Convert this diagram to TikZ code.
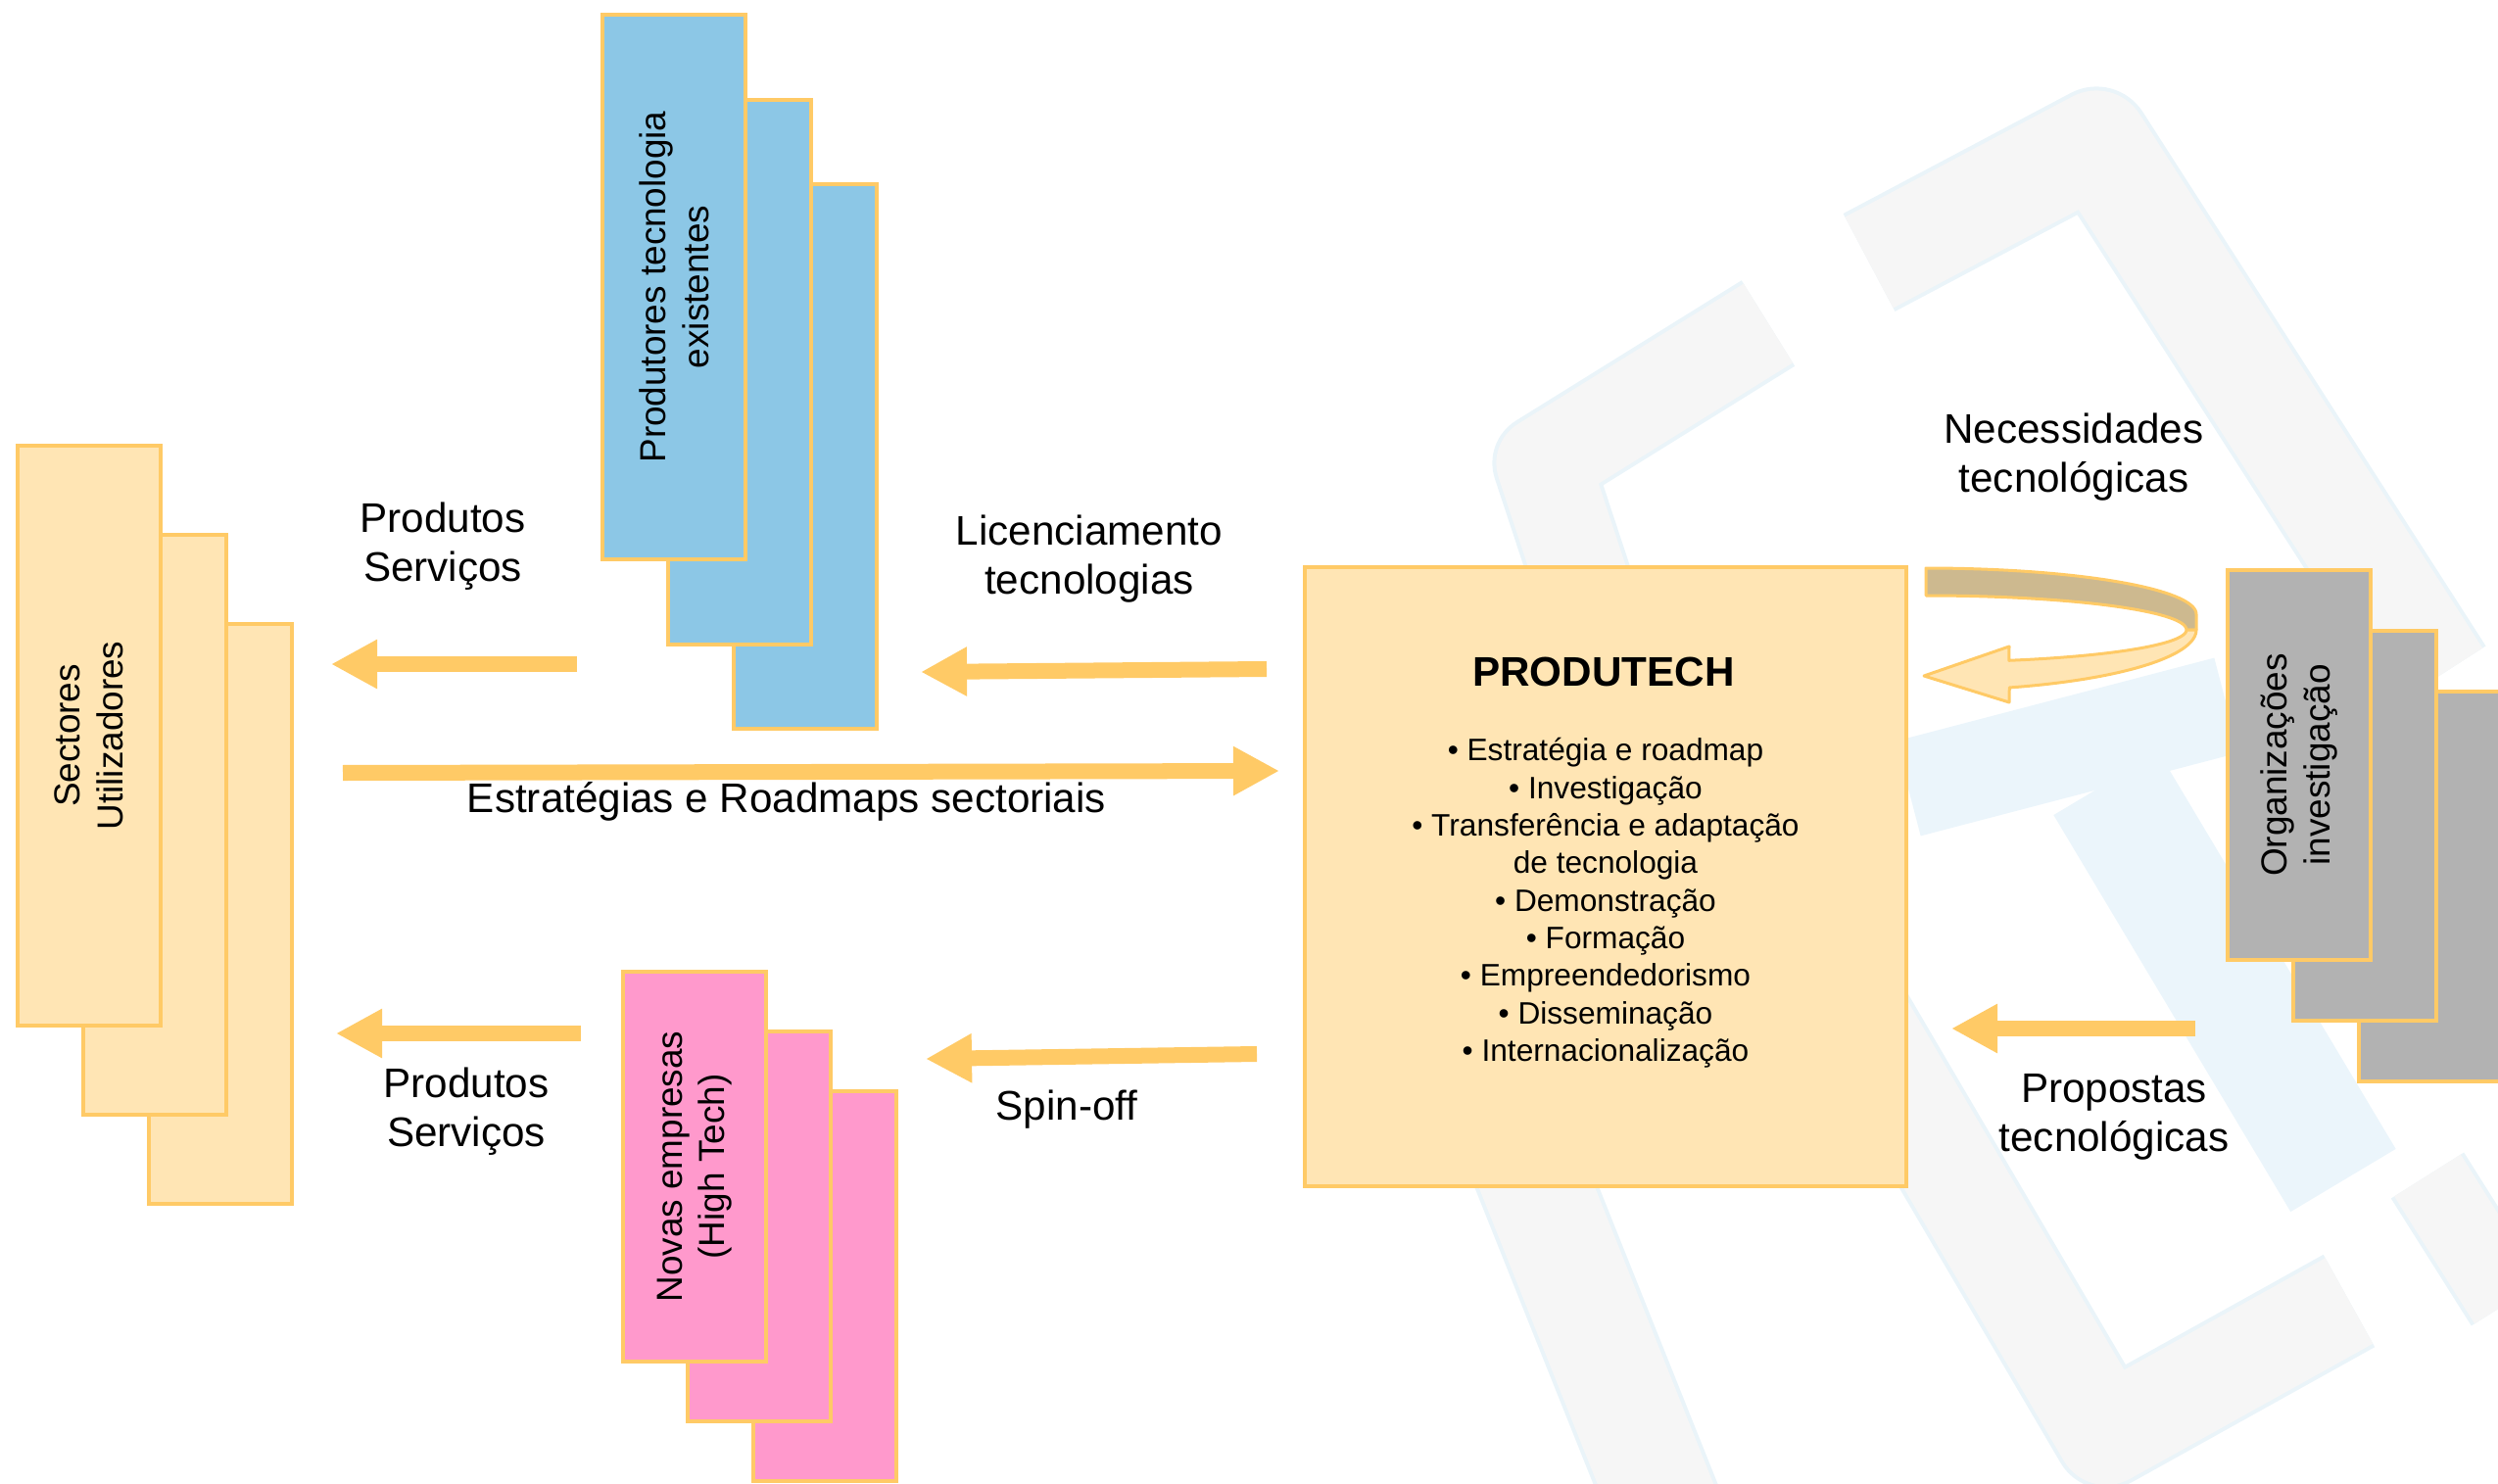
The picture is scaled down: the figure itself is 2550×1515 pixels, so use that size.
\documentclass[tikz,border=0pt]{standalone}
\usepackage{fontspec}
\setmainfont{Liberation Sans}
\usetikzlibrary{arrows.meta,positioning}

\definecolor{flowor}{HTML}{FFCA66}
\definecolor{peach}{HTML}{FFE5B4}
\definecolor{skyblue}{HTML}{8CC7E6}
\definecolor{rosepink}{HTML}{FF99CC}
\definecolor{midgray}{HTML}{B2B2B2}
\definecolor{tanback}{HTML}{CDB98F}
\definecolor{wmgray}{HTML}{F6F6F6}
\definecolor{wmedge}{HTML}{EAF4F9}
\definecolor{wmblue}{HTML}{EBF5FB}

\begin{document}
\begin{tikzpicture}[x=0.01cm,y=-0.01cm,
  card/.style={draw=flowor,line width=0.04cm,inner sep=0pt,rotate=90,align=center,
    font=\fontsize{10.5}{12.4}\selectfont},
  sect/.style={card,fill=peach,minimum width=5.92cm,minimum height=1.46cm},
  prodt/.style={card,fill=skyblue,minimum width=5.55cm,minimum height=1.46cm},
  nova/.style={card,fill=rosepink,minimum width=3.98cm,minimum height=1.46cm},
  orgz/.style={card,fill=midgray,minimum width=3.98cm,minimum height=1.46cm},
  flow/.style={draw=flowor,line width=0.16cm,-{Triangle[length=0.47cm,width=0.47cm]}},
  lbl/.style={align=center,font=\fontsize{12}{14.2}\selectfont},
  wmband/.style={draw=wmedge,double=wmgray,double distance=#1,line width=0.04cm,line join=round}]

  \useasboundingbox (0,0) rectangle (2550,1515);

  % faint logo behind the right half
  \draw[wmband=1.05cm] (1908,268) -- (2140,145) -- (2490,690);
  \draw[wmband=0.95cm] (1805,330) -- (1575,473) -- (1650,700);
  \draw[wmband=1.1cm] (1560,1190) -- (1700,1540);
  \draw[wmband=1.0cm] (1900,1040) -- (2150,1466) -- (2398,1328);
  \draw[wmband=0.8cm] (2478,1200) -- (2560,1330);
  \draw[wmblue,line width=1.0cm] (1948,805) -- (2273,720);
  \draw[wmblue,line width=1.25cm] (2150,800) -- (2392,1205);

  \node[sect] (su3) at (225,933) {};
  \node[sect] (su2) at (158,842) {};
  \node[sect] (su1) at (91,751) {Sectores\\Utilizadores};

  \node[prodt] (pt3) at (822,466) {};
  \node[prodt] (pt2) at (755,380) {};
  \node[prodt] (pt1) at (688,293) {Produtores tecnologia\\existentes};

  \node[nova] (ne3) at (842,1313) {};
  \node[nova] (ne2) at (775,1252) {};
  \node[nova] (ne1) at (709,1191) {Novas empresas\\(High Tech)};

  \node[orgz] (oi3) at (2481,905) {};
  \node[orgz] (oi2) at (2414,843) {};
  \node[orgz] (oi1) at (2347,781) {Organizações\\investigação};

  \node[draw=flowor,line width=0.04cm,fill=peach,minimum width=6.14cm,minimum height=6.31cm]
    (prod) at (1639,895) {};
  \node[font=\fontsize{12}{14}\selectfont\bfseries] (prodtitle) at (1637,686) {PRODUTECH};
  \node[align=center,font=\fontsize{9}{10.9}\selectfont] (prodlist) at (1639,922)
    {• Estratégia e roadmap\\• Investigação\\• Transferência e adaptação\\de tecnologia\\
     • Demonstração\\• Formação\\• Empreendedorismo\\• Disseminação\\• Internacionalização};

  \coordinate (ps1a) at (589,678);   \coordinate (ps1b) at (338,678);
  \coordinate (lica) at (1293,683);  \coordinate (licb) at (940,686);
  \coordinate (estra) at (350,789);  \coordinate (estrb) at (1306,787);
  \coordinate (ps2a) at (593,1055);  \coordinate (ps2b) at (343,1055);
  \coordinate (spina) at (1283,1076); \coordinate (spinb) at (945,1081);
  \coordinate (propa) at (2241,1050); \coordinate (propb) at (1992,1050);

  \draw[flow] (ps1a) -- (ps1b);
  \draw[flow] (lica) -- (licb);
  \draw[flow] (estra) -- (estrb);
  \draw[flow] (ps2a) -- (ps2b);
  \draw[flow] (spina) -- (spinb);
  \draw[flow] (propa) -- (propb);

  % turning arrow above the research stack
  \filldraw[fill=tanback,draw=flowor,line width=0.03cm,line join=round]
    plot[domain=90:0,samples=40] ({1966+276*cos(\x)},{627-47*sin(\x)})
    -- (2242,643)
    -- plot[domain=0:90,samples=40] ({1966+266*cos(\x)},{643-35*sin(\x)}) -- cycle;
  \filldraw[fill=peach,draw=flowor,line width=0.03cm,line join=round]
    plot[domain=0:72,samples=40] ({1966+276*cos(\x)},{643+62*sin(\x)})
    -- (2051,717) -- (1964,690) -- (2051,660)
    -- plot[domain=71.4:0,samples=40] ({1966+266*cos(\x)},{643+33*sin(\x)}) -- cycle;

  \node[lbl] (ps1lbl) at (452,558) {Produtos\\Serviços};
  \node[lbl] (liclbl) at (1112,571) {Licenciamento\\tecnologias};
  \node[lbl] (estrlbl) at (803,818) {Estratégias e Roadmaps sectoriais};
  \node[lbl] (ps2lbl) at (476,1135) {Produtos\\Serviços};
  \node[lbl] (spinlbl) at (1089,1133) {Spin-off};
  \node[lbl] (neclbl) at (2117,467) {Necessidades\\tecnológicas};
  \node[lbl] (proplbl) at (2158,1140) {Propostas\\tecnológicas};
\end{tikzpicture}
\end{document}
